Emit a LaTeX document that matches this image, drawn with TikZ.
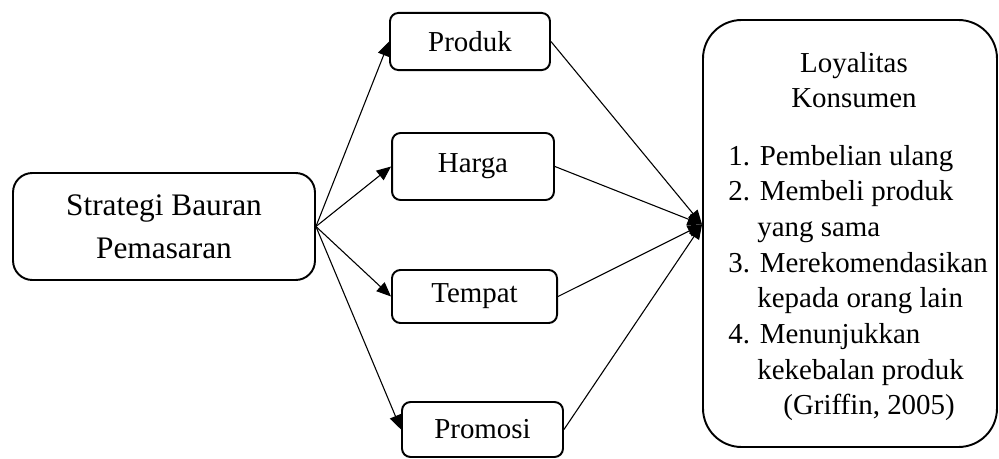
\documentclass[tikz,border=0pt]{standalone}
\usepackage{fontspec}
\setmainfont{Liberation Serif}
\usepackage{tikz}
\usetikzlibrary{arrows.meta}
\usetikzlibrary{positioning}

\tikzset{
  kotak/.style={draw,rectangle,rounded corners=3.5pt,line width=0.8pt,inner sep=0pt,
    font=\fontsize{12}{14.8}\selectfont},
  teks/.style={inner sep=0pt,font=\fontsize{12}{14.8}\selectfont},
  panah/.style={->,>={Triangle[length=6pt,width=5pt]},line width=0.45pt},
}

\begin{document}
\begin{tikzpicture}[x=0.415pt,y=-0.415pt]

  \useasboundingbox (0,0) rectangle (999,459);

  \node [kotak,rounded corners=8pt,minimum width=125.3pt,minimum height=44.4pt,align=center,
         font=\fontsize{13}{18}\selectfont] (strategi) at (164,226.5) {Strategi Bauran\\Pemasaran};

  \node [kotak,minimum width=66.4pt,minimum height=23.7pt] (produk)  at (470,41.5)  {Produk};
  \node [kotak,minimum width=67.2pt,minimum height=27.8pt] (harga)   at (473,166.5) {Harga};
  \node [kotak,minimum width=68.5pt,minimum height=22pt]   (tempat)  at (474.5,296.5) {Tempat};
  \node [kotak,minimum width=66.8pt,minimum height=22.8pt] (promosi) at (482.5,429.5) {Promosi};

  \node [kotak,rounded corners=16pt,minimum width=122pt,minimum height=177.2pt] (loyal) at (850,233.5) {};
  \node [teks,align=center] (judul) at (854,80) {Loyalitas\\Konsumen};
  \node [teks,align=left,anchor=west] (daftar) at (728,283) {%
    1. Pembelian ulang\\
    2. Membeli produk\\
    \hphantom{2.~}yang sama\\
    3. Merekomendasikan\\
    \hphantom{3.~}kepada orang lain\\
    4. Menunjukkan\\
    \hphantom{4.~}kekebalan produk\\
    \hspace*{22.8pt}(Griffin, 2005)};

  \coordinate (masuk) at ([yshift=3.7pt]loyal.west);

  \path [panah]
    (strategi.east) edge (produk.west)
    (strategi.east) edge (harga.west)
    (strategi.east) edge (tempat.west)
    (strategi.east) edge (promosi.west);

  \path [panah]
    (produk.east)  edge (masuk)
    (harga.east)   edge (masuk)
    (tempat.east)  edge (masuk)
    (promosi.east) edge (masuk);

\end{tikzpicture}
\end{document}
